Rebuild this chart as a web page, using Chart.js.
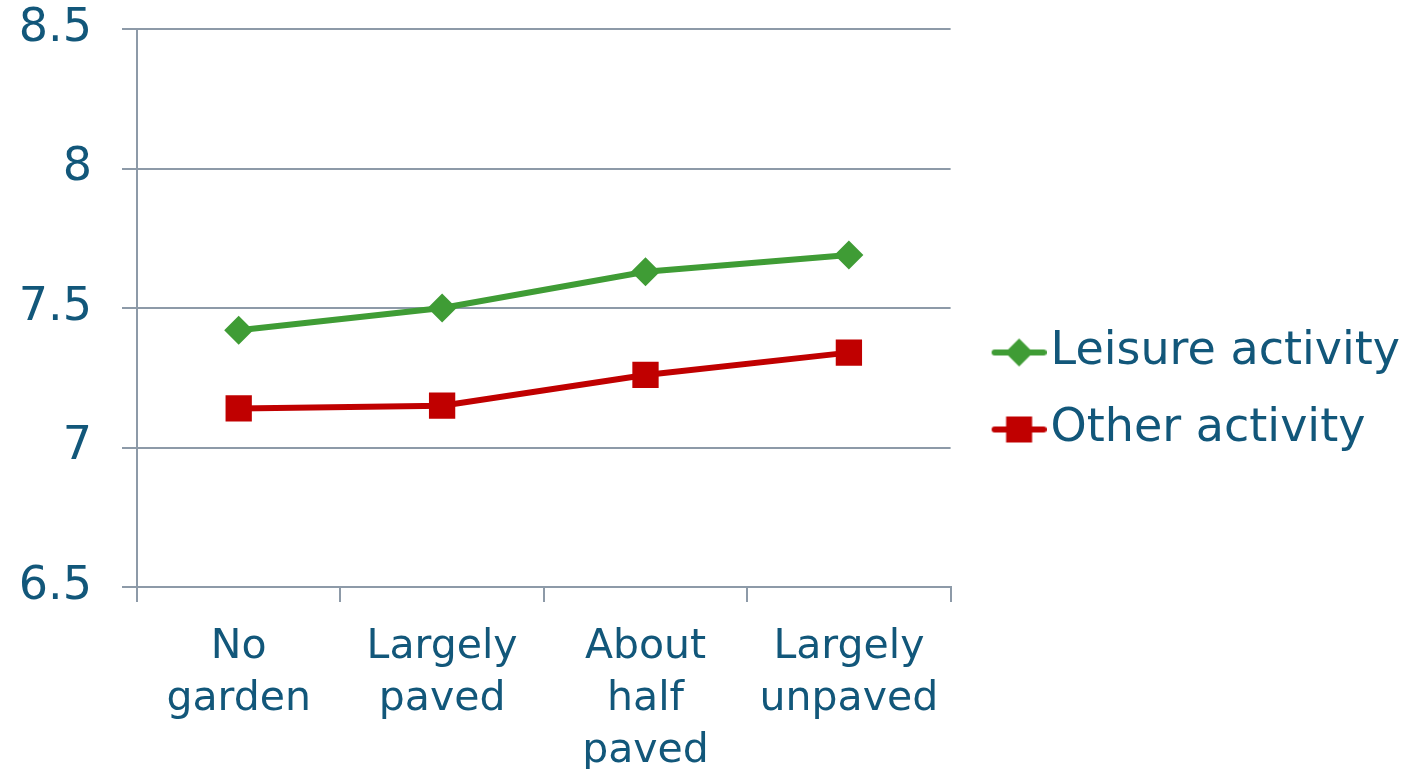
<!DOCTYPE html>
<html>
<head>
<meta charset="utf-8">
<title>Garden paving and activity</title>
<script src="https://cdn.jsdelivr.net/npm/chart.js@4/dist/chart.umd.min.js"></script>
<style>
  html, body { margin: 0; padding: 0; background: #ffffff; }
  #wrap { width: 1419px; height: 769px; }
</style>
</head>
<body>
<div id="wrap"><canvas id="myChart" width="1419" height="769"></canvas></div>
<script>
// categories along the bottom (multi-line labels)
let gardenTypes = [['No', 'garden'], ['Largely', 'paved'], ['About', 'half', 'paved'], ['Largely', 'unpaved']];

// the two series
let seriesNames = ['Leisure activity', 'Other activity'];
let leisureValues = [7.42, 7.50, 7.63, 7.69];
let otherValues = [7.14, 7.15, 7.26, 7.34];

// y axis range
let yMin = 6.5;
let yMax = 8.5;
let yStep = 0.5;

let textColor = '#12577a';
let gridColor = '#8d9aa8';
let green = '#3f9c35';
let red = '#c00000';
let fontName = "'DejaVu Sans', Verdana, sans-serif";

// legend symbol: short line with the marker on it, drawn into a small canvas
// (left part of the canvas stays empty so the symbol sits right next to the text)
function legendSymbol(color, shape) {
    let c = document.createElement('canvas');
    c.width = 84;
    c.height = 32;
    let g = c.getContext('2d');
    g.strokeStyle = color;
    g.lineWidth = 6;
    g.lineCap = 'round';
    g.beginPath();
    g.moveTo(32, 16);
    g.lineTo(81, 16);
    g.stroke();
    g.fillStyle = color;
    let cx = 56.5;
    if (shape === 'diamond') {
        g.beginPath();
        g.moveTo(cx, 2);
        g.lineTo(cx + 14, 16);
        g.lineTo(cx, 30);
        g.lineTo(cx - 14, 16);
        g.closePath();
        g.fill();
    } else {
        g.fillRect(cx - 13, 3, 26, 26);
    }
    return c;
}

let symbols = [legendSymbol(green, 'diamond'), legendSymbol(red, 'square')];

let ctx = document.getElementById('myChart').getContext('2d');
let chart = new Chart(ctx, {
    type: 'line',
    data: {
        labels: gardenTypes,
        datasets: [{
            label: seriesNames[0],
            data: leisureValues,
            borderColor: green,
            backgroundColor: green,
            borderWidth: 6,
            pointStyle: 'rectRot',
            pointRadius: 14.5,
            pointHoverRadius: 14.5,
            pointBorderWidth: 0,
            tension: 0
        }, {
            label: seriesNames[1],
            data: otherValues,
            borderColor: red,
            backgroundColor: red,
            borderWidth: 6,
            pointStyle: 'rect',
            pointRadius: 18.6,
            pointHoverRadius: 18.6,
            pointBorderWidth: 0,
            tension: 0
        }]
    },
    options: {
        responsive: false,
        animation: false,
        layout: {
            padding: { left: 0, right: 9, top: 0, bottom: 0 }
        },
        plugins: {
            tooltip: { enabled: false },
            legend: {
                position: 'right',
                maxWidth: 600,
                // empty title only used as a spacer above the items
                title: {
                    display: true,
                    text: '',
                    padding: 0,
                    font: { size: 13, lineHeight: 1 }
                },
                labels: {
                    color: textColor,
                    font: { family: fontName, size: 46 },
                    usePointStyle: true,
                    boxWidth: 46,
                    boxHeight: 46,
                    pointStyleWidth: 46,
                    padding: 31,
                    generateLabels: function(ch) {
                        return ch.data.datasets.map(function(ds, i) {
                            return {
                                text: ds.label,
                                fontColor: textColor,
                                pointStyle: symbols[i],
                                datasetIndex: i,
                                hidden: false,
                                lineWidth: 0,
                                strokeStyle: 'transparent',
                                fillStyle: 'transparent'
                            };
                        });
                    }
                }
            }
        },
        scales: {
            x: {
                offset: true,
                afterFit: function(scale) {
                    // fixed height so the plot bottom lands where it should
                    scale.height = 182;
                },
                grid: {
                    offset: true,
                    drawOnChartArea: false,
                    drawTicks: true,
                    tickLength: 15,
                    color: gridColor,
                    lineWidth: 2
                },
                border: { color: gridColor, width: 2 },
                ticks: {
                    color: textColor,
                    font: { family: fontName, size: 41, lineHeight: 1.26 },
                    padding: 20,
                    maxRotation: 0,
                    autoSkip: false
                }
            },
            y: {
                min: yMin,
                max: yMax,
                afterFit: function(scale) {
                    // fixed width, and a fixed gap above the plot
                    scale.width = 137;
                    scale.paddingTop = 29;
                    scale.paddingBottom = 0;
                },
                grid: {
                    color: gridColor,
                    lineWidth: 2,
                    tickLength: 15
                },
                border: { color: gridColor, width: 2 },
                ticks: {
                    stepSize: yStep,
                    color: textColor,
                    font: { family: fontName, size: 46, lineHeight: 1.15 },
                    padding: 30,
                    callback: function(value) {
                        return String(value);
                    }
                }
            }
        }
    }
});
</script>
</body>
</html>
